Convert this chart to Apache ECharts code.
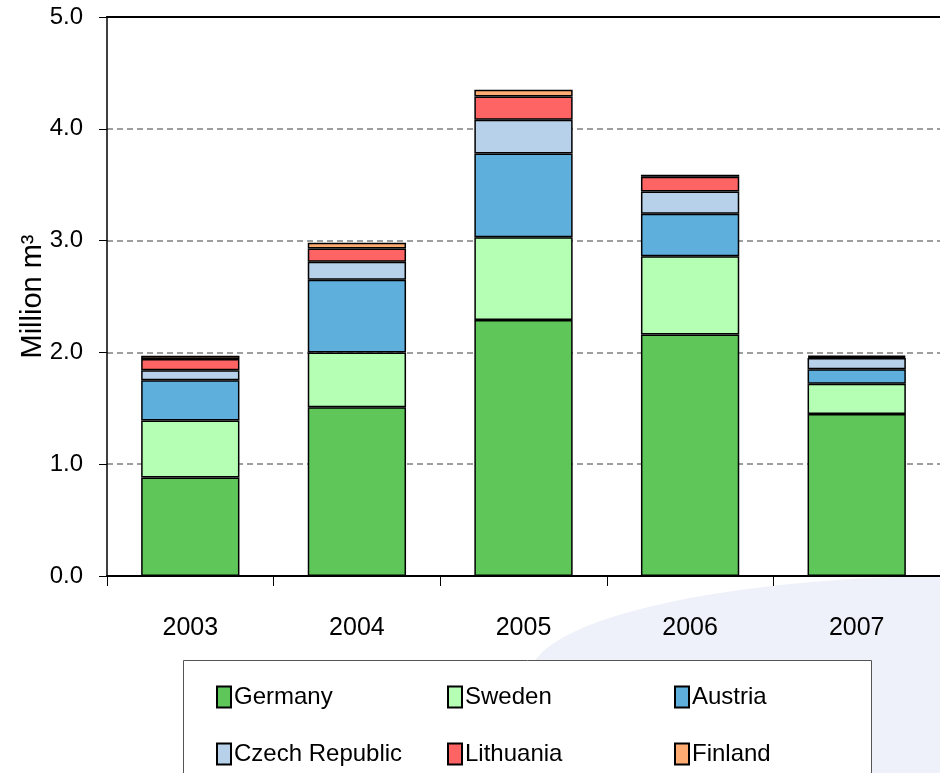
<!DOCTYPE html>
<html>
<head>
<meta charset="utf-8">
<script src="https://cdn.jsdelivr.net/npm/echarts@6/dist/echarts.min.js"></script>
<style>
  html, body { margin: 0; padding: 0; background: #fff; }
  #container { width: 940px; height: 773px; }
</style>
</head>
<body>
<div id="container"></div>
<script>
var years = ['2003', '2004', '2005', '2006', '2007'];
var germany = [0.88, 1.51, 2.29, 2.16, 1.45];
var sweden = [0.51, 0.49, 0.74, 0.70, 0.27];
var austria = [0.36, 0.65, 0.75, 0.38, 0.13];
var czech = [0.09, 0.16, 0.30, 0.20, 0.10];
var lithuania = [0.10, 0.12, 0.21, 0.13, 0.01];
var finland = [0.03, 0.05, 0.06, 0.02, 0.01];
var yTicks = [0, 1, 2, 3, 4, 5];

var names = ['Germany', 'Sweden', 'Austria', 'Czech Republic', 'Lithuania', 'Finland'];
var values = [germany, sweden, austria, czech, lithuania, finland];
var colors = ['#5fc65a', '#b4ffb4', '#5eafdc', '#b6d1e9', '#ff6464', '#ffac72'];

var font = "'Liberation Sans', Arial, sans-serif";

var dom = document.getElementById('container');
var myChart = echarts.init(dom, null, { renderer: 'canvas' });

// one legend per item so the columns line up like the original
var legendPos = [[211, 680], [442, 680], [669, 680], [211, 737], [442, 737], [669, 737]];
var legends = names.map(function (n, i) {
  return {
    data: [n],
    left: legendPos[i][0],
    top: legendPos[i][1],
    itemWidth: 14,
    itemHeight: 21,
    itemGap: 6,
    icon: 'rect',
    selectedMode: false,
    textStyle: { fontFamily: font, fontSize: 24, color: '#000', padding: [0, 0, 0, -2] }
  };
});

var option = {
  backgroundColor: '#fff',
  animation: false,
  graphic: [
    {
      type: 'ellipse', z: -10, silent: true,
      shape: { cx: 960, cy: 676, rx: 430, ry: 100 },
      style: { fill: '#eef1f9' }
    },
    {
      type: 'rect', z: -5, silent: true,
      shape: { x: 183.5, y: 660.5, width: 688, height: 130 },
      style: { fill: '#fff', stroke: '#555', lineWidth: 1 }
    }
  ],
  legend: legends,
  grid: { left: 107, top: 17, width: 836, bottom: 197, containLabel: false },
  xAxis: [
    {
      type: 'category',
      data: years,
      axisLine: { lineStyle: { color: '#000', width: 2 } },
      axisTick: { show: true, length: 10, lineStyle: { color: '#000' } },
      axisLabel: { fontFamily: font, fontSize: 25, color: '#000', margin: 40 }
    },
    {
      type: 'category',
      data: years,
      position: 'top',
      axisLine: { show: true, lineStyle: { color: '#000', width: 2 } },
      axisTick: { show: false },
      axisLabel: { show: false }
    }
  ],
  yAxis: {
    type: 'value',
    min: yTicks[0],
    max: yTicks[yTicks.length - 1],
    interval: 1,
    name: 'Million m³',
    nameLocation: 'middle',
    nameGap: 60,
    nameMoveOverlap: false,
    nameTextStyle: { fontFamily: font, fontSize: 29, color: '#000' },
    axisLine: { show: true, lineStyle: { color: '#000', width: 1.5 } },
    axisTick: { show: true, length: 8, lineStyle: { color: '#000' } },
    axisLabel: {
      fontFamily: font, fontSize: 24, color: '#000', margin: 24,
      formatter: function (v) { return v.toFixed(1); }
    },
    splitLine: { show: true, lineStyle: { color: '#7f7f7f', width: 1.5, type: [6, 4] } }
  },
  series: names.map(function (n, i) {
    return {
      name: n,
      type: 'bar',
      stack: 'total',
      barWidth: '59%',
      data: values[i],
      itemStyle: { color: colors[i], borderColor: '#000', borderWidth: 1.5 }
    };
  })
};

myChart.setOption(option);
window.addEventListener('resize', myChart.resize);
</script>
</body>
</html>
